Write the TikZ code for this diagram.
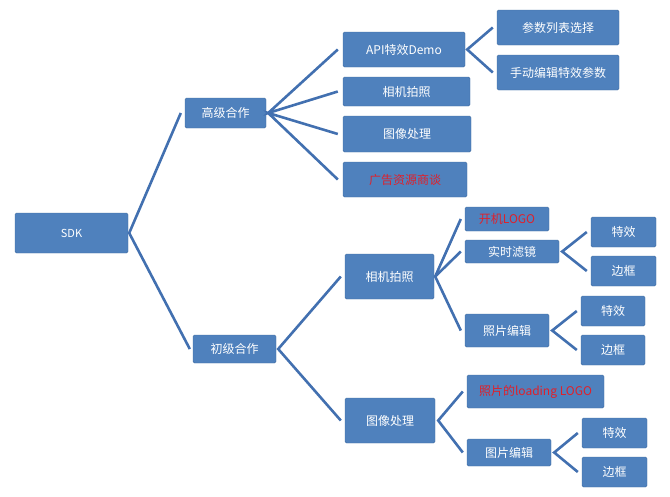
\documentclass[tikz,border=0pt]{standalone}
\usepackage{fontspec}
\setmainfont{Noto Sans CJK SC}
\usepackage{tikz}
\definecolor{boxblue}{HTML}{4F81BD}
\definecolor{linkblue}{HTML}{4270B0}
\definecolor{hotred}{HTML}{E0202A}

\begin{document}
\begin{tikzpicture}[x=1pt, y=-1pt,
    box/.style={fill=boxblue, draw=boxblue!85!black, line width=0.4pt, rounded corners=1.5pt, text=white, font=\fontsize{12}{14}\selectfont, inner sep=0pt},
    hot/.style={text=hotred},
    link/.style={draw=linkblue, line width=2.6pt}]
          \useasboundingbox (0, 0) rectangle (670, 496);
          % root and first level
          \node[box, font=\fontsize{11}{13}\selectfont, minimum width=113pt, minimum height=40pt] (sdk) at (71.5, 233) {SDK};
          \node[box, minimum width=81pt, minimum height=30pt] (adv) at (225.5, 113) {高级合作};
          \node[box, minimum width=83pt, minimum height=28pt] (basic) at (234.5, 349) {初级合作};
          % advanced branch
          \node[box, minimum width=122pt, minimum height=35pt] (api) at (404, 49.5) {API特效Demo};
          \node[box, minimum width=127pt, minimum height=29pt] (camA) at (406.5, 91.5) {相机拍照};
          \node[box, minimum width=128pt, minimum height=36pt] (imgA) at (407, 134) {图像处理};
          \node[box, hot, minimum width=124pt, minimum height=35pt] (ads) at (405, 179.5) {广告资源商谈};
          \node[box, minimum width=122pt, minimum height=35pt] (plist) at (558, 27.5) {参数列表选择};
          \node[box, minimum width=122pt, minimum height=35pt] (manual) at (558, 72.5) {手动编辑特效参数};
          % basic branch, camera
          \node[box, minimum width=89pt, minimum height=45pt] (camB) at (389.5, 276.5) {相机拍照};
          \node[box, hot, minimum width=84pt, minimum height=24pt] (boot) at (507, 219) {开机LOGO};
          \node[box, minimum width=94pt, minimum height=23pt] (filter) at (512, 251.5) {实时滤镜};
          \node[box, minimum width=84pt, minimum height=33pt] (editA) at (507, 330.5) {照片编辑};
          \node[box, minimum width=65pt, minimum height=30pt] (fxA) at (623.5, 232) {特效};
          \node[box, minimum width=65pt, minimum height=30pt] (frA) at (623.5, 271) {边框};
          \node[box, minimum width=64pt, minimum height=30pt] (fxB) at (613, 311) {特效};
          \node[box, minimum width=64pt, minimum height=30pt] (frB) at (613, 350) {边框};
          % basic branch, image
          \node[box, minimum width=90pt, minimum height=45pt] (imgB) at (390, 420.5) {图像处理};
          \node[box, hot, minimum width=137pt, minimum height=33pt] (load) at (535.5, 391.5) {照片的loading LOGO};
          \node[box, minimum width=84pt, minimum height=27pt] (editB) at (509, 452.5) {图片编辑};
          \node[box, minimum width=65pt, minimum height=30pt] (fxC) at (614.5, 433) {特效};
          \node[box, minimum width=65pt, minimum height=30pt] (frC) at (614.5, 472) {边框};
          % connectors
          \draw[link] ([xshift=-4pt]adv.west) -- ([xshift=1pt]sdk.east) -- ([xshift=-3pt]basic.west);
          \draw[link] ([xshift=-5pt]api.west) -- ([xshift=2pt]adv.east) -- ([xshift=-5pt]camA.west);
          \draw[link] ([xshift=-5pt]imgA.west) -- ([xshift=2pt]adv.east) -- ([xshift=-5pt]ads.west);
          \draw[link] ([xshift=-4pt]plist.west) -- ([xshift=2pt]api.east) -- ([xshift=-4pt]manual.west);
          \draw[link] ([xshift=-4pt]camB.west) -- ([xshift=2pt]basic.east) -- ([xshift=-4pt]imgB.west);
          \draw[link] ([xshift=-4pt]boot.west) -- ([xshift=1pt]camB.east) -- ([xshift=-4pt]editA.west);
          \draw[link] ([xshift=1pt]camB.east) -- ([xshift=-4pt]filter.west);
          \draw[link] ([xshift=-4pt]fxA.west) -- ([xshift=3pt]filter.east) -- ([xshift=-4pt]frA.west);
          \draw[link] ([xshift=-4pt]fxB.west) -- ([xshift=3pt]editA.east) -- ([xshift=-4pt]frB.west);
          \draw[link] ([xshift=-4pt]load.west) -- ([xshift=3pt]imgB.east) -- ([xshift=-4pt]editB.west);
          \draw[link] ([xshift=-4pt]fxC.west) -- ([xshift=3pt]editB.east) -- ([xshift=-4pt]frC.west);
        \end{tikzpicture}
\end{document}
